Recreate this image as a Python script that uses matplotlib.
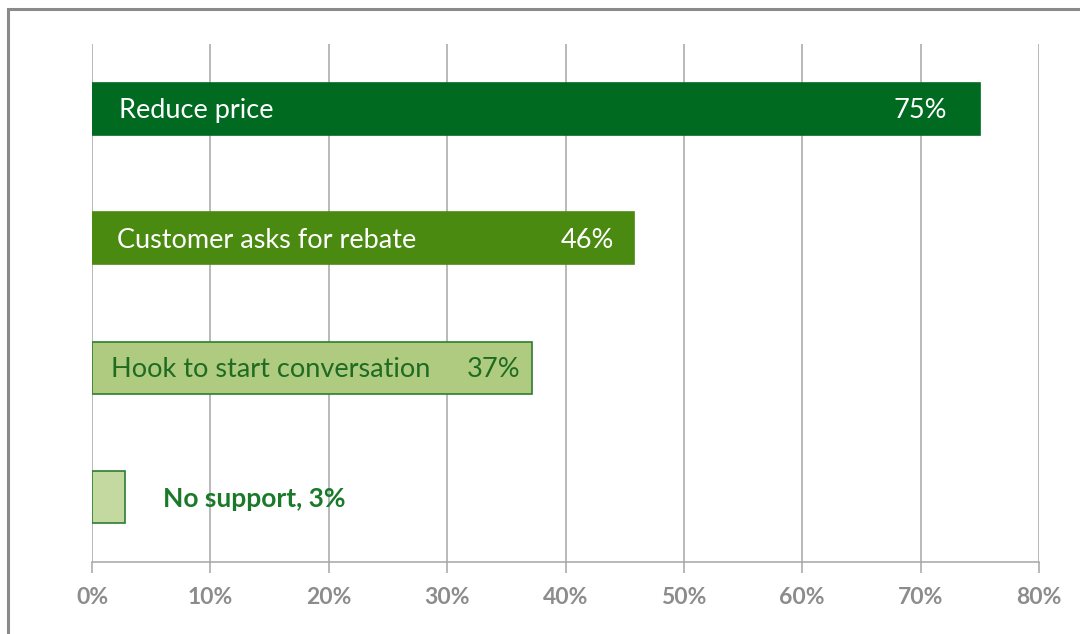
import numpy as np
import matplotlib.pyplot as plt
from matplotlib.patches import Rectangle

plt.rcParams["font.family"] = ["Lato", "DejaVu Sans"]

# data, top to bottom
categories = ["Reduce price", "Customer asks for rebate", "Hook to start conversation", "No support"]
values = [75.0, 45.8, 37.2, 2.8]
value_labels = ["75%", "46%", "37%", "3%"]
x_ticks = [0, 10, 20, 30, 40, 50, 60, 70, 80]

# styling per bar
face_colors = ["#006a21", "#4a8a10", "#aecb80", "#c4d9a0"]
edge_colors = ["#006a21", "#4a8a10", "#2e7d32", "#2e7d32"]
text_colors = ["white", "white", "#1f6b22", "#1f6b22"]
label_pad = [27, 25, 19]
value_pad = [33, 20, 12]

fig = plt.figure(figsize=(10.8, 6.34), dpi=100)
ax = fig.add_axes([92 / 1080, 1 - 562 / 634, (1039 - 92) / 1080, (562 - 44) / 634])

# outer frame of the chart area (cut off at right and bottom)
fig.patches.append(Rectangle((8 / 1080, -0.1), 1.2, 1 - 9 / 634 + 0.1, transform=fig.transFigure,
                             fill=False, edgecolor="#8a8a8a", linewidth=2.2, zorder=0))

y = np.arange(len(categories))
ax.barh(y, values, height=0.4, color=face_colors, edgecolor=edge_colors, linewidth=1.2, zorder=3)

ax.set_xlim(0, 80)
ax.set_ylim(len(categories) - 0.5, -0.5)
ax.set_yticks([])
ax.set_xticks(x_ticks)
ax.set_xticklabels([f"{t}%" for t in x_ticks])
ax.grid(axis="x", color="#a6a6a6", linewidth=1.1, zorder=0)
ax.tick_params(axis="x", length=8, width=1.1, color="#a6a6a6", pad=10, labelsize=16.5, labelcolor="#8c8c8c")
for lab in ax.get_xticklabels():
    lab.set_fontweight("bold")

for side in ["top", "right", "left"]:
    ax.spines[side].set_visible(False)
ax.spines["bottom"].set_color("#a6a6a6")
ax.spines["bottom"].set_linewidth(1.1)

# labels inside the bars
for i in range(3):
    ax.annotate(categories[i], (0, y[i]), xytext=(label_pad[i] * 0.72, -1.5), textcoords="offset points",
                ha="left", va="center", fontsize=19.5, color=text_colors[i], zorder=4)
    ax.annotate(value_labels[i], (values[i], y[i]), xytext=(-value_pad[i] * 0.72, -1.5), textcoords="offset points",
                ha="right", va="center", fontsize=19.5, color=text_colors[i], zorder=4)

# small bar gets its label outside
ax.annotate(f"{categories[3]}, {value_labels[3]}", (values[3], y[3]), xytext=(38 * 0.72, -1.5),
            textcoords="offset points", ha="left", va="center", fontsize=19, fontweight="bold",
            color="#1a7a2a", zorder=4)

fig.savefig("out.png", dpi=100)
